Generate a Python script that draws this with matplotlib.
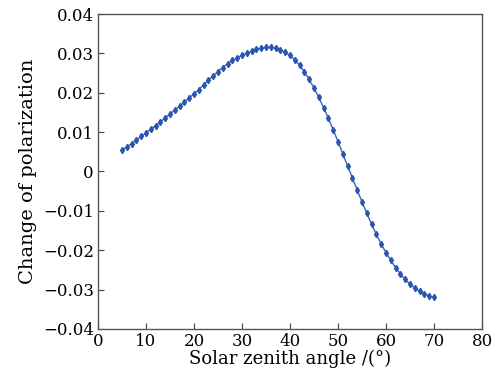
import numpy as np
import matplotlib
matplotlib.use("Agg")
import matplotlib.pyplot as plt
from matplotlib.ticker import FuncFormatter

# solar zenith angle (deg) and change of polarization
zenith = list(range(5, 71))
change = [
    0.0054, 0.0062, 0.0071, 0.0080, 0.0089, 0.0098, 0.0107, 0.0116, 0.0126, 0.0136,
    0.0146, 0.0156, 0.0166, 0.0176, 0.0187, 0.0197, 0.0208, 0.0220, 0.0232, 0.0243,
    0.0254, 0.0264, 0.0274, 0.0282, 0.0289, 0.0295, 0.0300, 0.0305, 0.0310, 0.0313,
    0.0315, 0.0315, 0.0313, 0.0309, 0.0303, 0.0295, 0.0284, 0.0270, 0.0253, 0.0234,
    0.0212, 0.0188, 0.0162, 0.0135, 0.0106, 0.0076, 0.0045, 0.0014, -0.0016, -0.0047,
    -0.0077, -0.0106, -0.0134, -0.0160, -0.0184, -0.0206, -0.0226, -0.0244, -0.0260, -0.0274,
    -0.0286, -0.0296, -0.0304, -0.0311, -0.0316, -0.0320,
]
x_ticks = [0, 10, 20, 30, 40, 50, 60, 70, 80]
y_ticks = [-0.04, -0.03, -0.02, -0.01, 0, 0.01, 0.02, 0.03, 0.04]

plt.rcParams["font.family"] = ["DejaVu Serif"]

fig = plt.figure(figsize=(5.0, 3.79), dpi=100)
ax = fig.add_axes([0.196, 0.132, 0.768, 0.831])

ax.plot(zenith, change, color="#3a64b8", lw=1.0, marker="d", ms=3.2,
        mfc="#2856b0", mec="#2856b0")

ax.set_xlim(0, 80)
ax.set_ylim(-0.04, 0.04)
ax.set_xticks(x_ticks)
ax.set_yticks(y_ticks)


def fmt_y(v, pos):
    if abs(v) < 1e-9:
        return "0"
    return f"{v:.2f}".replace("-", "\u2212")


ax.yaxis.set_major_formatter(FuncFormatter(fmt_y))
ax.tick_params(direction="in", length=4, width=0.8, color="#444444",
               labelsize=12, pad=3)
for s in ax.spines.values():
    s.set_color("#555555")
    s.set_linewidth(1.0)

ax.set_xlabel("Solar zenith angle /(°)", fontsize=13, labelpad=0)
ax.set_ylabel("Change of polarization", fontsize=14, labelpad=4)

fig.savefig("out.png", dpi=100)
